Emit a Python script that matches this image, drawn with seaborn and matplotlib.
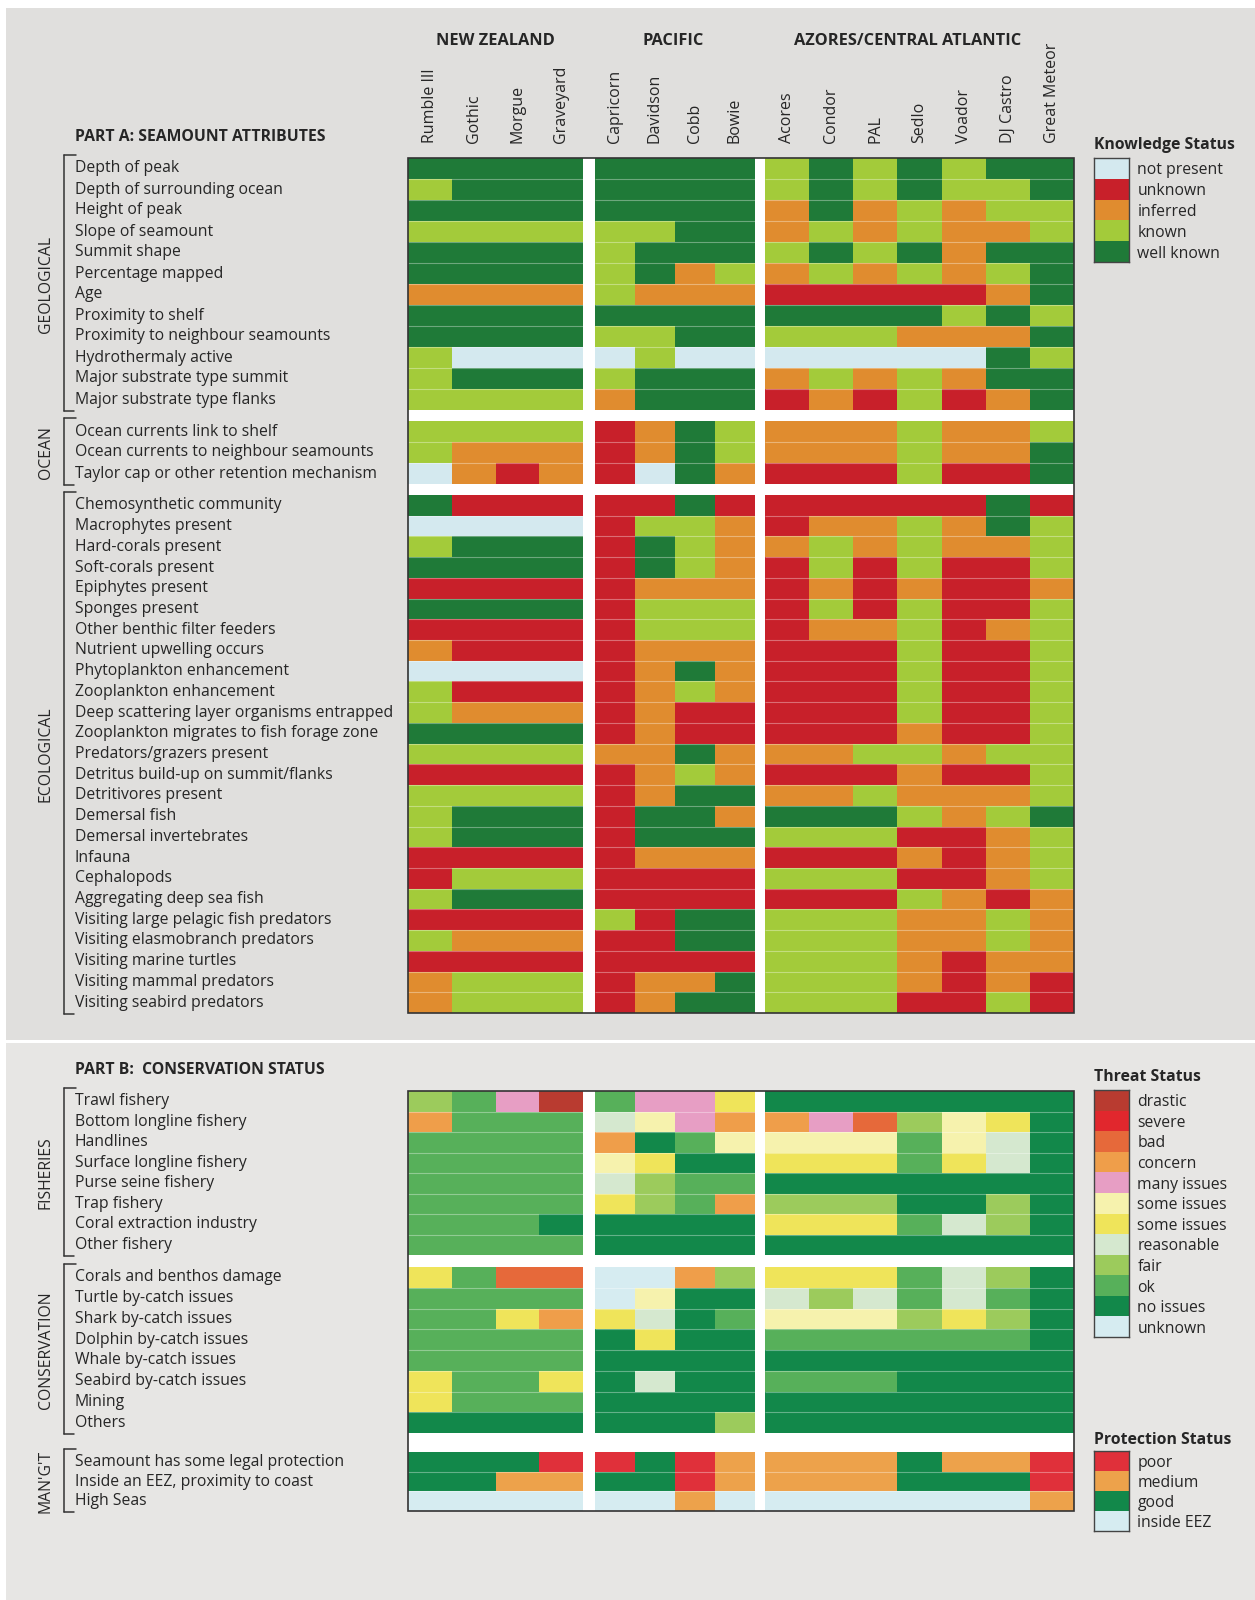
import matplotlib
matplotlib.use("Agg")
import matplotlib.pyplot as plt
import numpy as np
import seaborn as sns
from matplotlib.colors import ListedColormap
from matplotlib.lines import Line2D
from matplotlib.patches import Rectangle

# ---- data ------------------------------------------------------------------
groups = ["NEW ZEALAND", "PACIFIC", "AZORES/CENTRAL ATLANTIC"]
nz = ["Rumble III", "Gothic", "Morgue", "Graveyard"]
pacific = ["Capricorn", "Davidson", "Cobb", "Bowie"]
atlantic = ["Acores", "Condor", "PAL", "Sedlo", "Voador", "DJ Castro", "Great Meteor"]

# knowledge status: N not present, U unknown, I inferred, K known, W well known
knowledge_codes = "NUIKW"
knowledge_levels = ["not present", "unknown", "inferred", "known", "well known"]
knowledge_colors = ["#d4e9ef", "#c8202a", "#e08c2f", "#a3cb3a", "#1f7a38"]

geological_rows = ["Depth of peak", "Depth of surrounding ocean", "Height of peak",
                   "Slope of seamount", "Summit shape", "Percentage mapped", "Age",
                   "Proximity to shelf", "Proximity to neighbour seamounts",
                   "Hydrothermaly active", "Major substrate type summit",
                   "Major substrate type flanks"]
geological = ["WWWW WWWW KWKWKWW", "KWWW WWWW KWKWKKW", "WWWW WWWW IWIKIKK",
              "KKKK KKWW IKIKIIK", "WWWW KWWW KWKWIWW", "WWWW KWIK IKIKIKW",
              "IIII KIII UUUUUIW", "WWWW WWWW WWWWKWK", "WWWW KKWW KKKIIIW",
              "KNNN NKNN NNNNNWK", "KWWW KWWW IKIKIWW", "KKKK IWWW UIUKUIW"]

ocean_rows = ["Ocean currents link to shelf", "Ocean currents to neighbour seamounts",
              "Taylor cap or other retention mechanism"]
ocean = ["KKKK UIWK IIIKIIK", "KIII UIWK IIIKIIW", "NIUI UNWI UUUKUUW"]

ecological_rows = ["Chemosynthetic community", "Macrophytes present", "Hard-corals present",
                   "Soft-corals present", "Epiphytes present", "Sponges present",
                   "Other benthic filter feeders", "Nutrient upwelling occurs",
                   "Phytoplankton enhancement", "Zooplankton enhancement",
                   "Deep scattering layer organisms entrapped",
                   "Zooplankton migrates to fish forage zone", "Predators/grazers present",
                   "Detritus build-up on summit/flanks", "Detritivores present",
                   "Demersal fish", "Demersal invertebrates", "Infauna", "Cephalopods",
                   "Aggregating deep sea fish", "Visiting large pelagic fish predators",
                   "Visiting elasmobranch predators", "Visiting marine turtles",
                   "Visiting mammal predators", "Visiting seabird predators"]
ecological = ["WUUU UUWU UUUUUWU", "NNNN UKKI UIIKIWK", "KWWW UWKI IKIKIIK",
              "WWWW UWKI UKUKUUK", "UUUU UIII UIUIUUI", "WWWW UKKK UKUKUUK",
              "UUUU UKKK UIIKUIK", "IUUU UIII UUUKUUK", "NNNN UIWI UUUKUUK",
              "KUUU UIKI UUUKUUK", "KIII UIUU UUUKUUK", "WWWW UIUU UUUIUUK",
              "KKKK IIWI IIKKIKK", "UUUU UIKI UUUIUUK", "KKKK UIWW IIKIIIK",
              "KWWW UWWI WWWKIKW", "KWWW UWWW KKKUUIK", "UUUU UIII UUUIUIK",
              "UKKK UUUU KKKUUIK", "KWWW UUUU UUUKIUI", "UUUU KUWW KKKIIKI",
              "KIII UUWW KKKIIKI", "UUUU UUUU KKKIUII", "IKKK UIIW KKKIUIU",
              "IKKK UIWW KKKUUKU"]

# threat status: D drastic, S severe, B bad, C concern, M many issues, P some issues (pale),
# Y some issues, R reasonable, F fair, O ok, G no issues, X unknown
threat_codes = "DSBCMPYRFOGX"
threat_levels = ["drastic", "severe", "bad", "concern", "many issues", "some issues",
                 "some issues", "reasonable", "fair", "ok", "no issues", "unknown"]
threat_colors = ["#b93b30", "#e1272d", "#e6693a", "#ef9e4a", "#e79ec4", "#f6f2ad",
                 "#efe45a", "#d5e8cf", "#9ccb5c", "#57b05a", "#12884a", "#d6ecf1"]

fisheries_rows = ["Trawl fishery", "Bottom longline fishery", "Handlines",
                  "Surface longline fishery", "Purse seine fishery", "Trap fishery",
                  "Coral extraction industry", "Other fishery"]
fisheries = ["FOMD OMMY GGGGGGG", "COOO RPMC CMBFPYG", "OOOO CGOP PPPOPRG",
             "OOOO PYGG YYYOYRG", "OOOO RFOO GGGGGGG", "OOOO YFOC FFFGGFG",
             "OOOG GGGG YYYORFG", "OOOO GGGG GGGGGGG"]

conservation_rows = ["Corals and benthos damage", "Turtle by-catch issues",
                     "Shark by-catch issues", "Dolphin by-catch issues",
                     "Whale by-catch issues", "Seabird by-catch issues", "Mining", "Others"]
conservation = ["YOBB XXCF YYYORFG", "OOOO XPGG RFROROG", "OOYC YRGO PPPFYFG",
                "OOOO GYGG OOOOOOG", "OOOO GGGG GGGGGGG", "YOOY GRGG OOOGGGG",
                "YOOO GGGG GGGGGGG", "GGGG GGGF GGGGGGG"]

# protection status: P poor, M medium, G good, E inside EEZ
protection_codes = "PMGE"
protection_levels = ["poor", "medium", "good", "inside EEZ"]
protection_colors = ["#e0303a", "#eda24b", "#12884a", "#d6ecf1"]

management_rows = ["Seamount has some legal protection", "Inside an EEZ, proximity to coast",
                   "High Seas"]
management = ["GGGP PGPM MMMGMMP", "GGMM GGPM MMMGGGP", "EEEE EEME EEEEEEM"]

# ---- layout (pixels) -------------------------------------------------------
W, H = 1255, 1600
TXT = "#262626"
group_x = [(408, 583), (595, 755), (765, 1074)]
group_cols = [nz, pacific, atlantic]

sns.set_theme(style="white")
plt.rcParams["font.family"] = ["Open Sans", "DejaVu Sans"]
plt.rcParams["text.color"] = TXT

fig = plt.figure(figsize=(W / 100, H / 100), dpi=100)
fig.patch.set_facecolor("white")


def fx(x):
    return x / W


def fy(y):
    return 1 - y / H


def px_axes(x0, y0, x1, y1):
    return fig.add_axes([fx(x0), fy(y1), (x1 - x0) / W, (y1 - y0) / H])


def rect(x0, y0, x1, y1, **kw):
    fig.patches.append(Rectangle((fx(x0), fy(y1)), (x1 - x0) / W, (y1 - y0) / H,
                                 transform=fig.transFigure, figure=fig, **kw))


# background panels
rect(6, 8, W, 1040, facecolor="#e0dfdd", edgecolor="none", zorder=-3)
rect(6, 1043, W, H, facecolor="#e7e6e4", edgecolor="none", zorder=-3)


def draw_section(rows, labels, name, codes, colors, y0, y1):
    mat = np.array([[codes.index(c) for c in r.replace(" ", "")] for r in rows])
    cmap = ListedColormap(colors)
    n = len(rows)
    start = 0
    for (x0, x1), cols in zip(group_x, group_cols):
        ax = px_axes(x0, y0, x1, y1)
        sub = mat[:, start:start + len(cols)]
        start += len(cols)
        sns.heatmap(sub, cmap=cmap, vmin=-0.5, vmax=len(colors) - 0.5, cbar=False,
                    xticklabels=False, yticklabels=False, ax=ax)
        ax.hlines(np.arange(1, n), 0, sub.shape[1], colors="white", alpha=0.35, lw=0.8)
    rh = (y1 - y0) / n
    for i, lab in enumerate(labels):
        fig.text(fx(75), fy(y0 + (i + 0.5) * rh), lab, ha="left", va="center",
                 fontsize=11.3)
    # bracket
    lk = dict(transform=fig.transFigure, color="#333333", lw=1.1)
    fig.add_artist(Line2D([fx(64), fx(64)], [fy(y0 - 3), fy(y1 + 1)], **lk))
    fig.add_artist(Line2D([fx(64), fx(76)], [fy(y0 - 3), fy(y0 - 3)], **lk))
    fig.add_artist(Line2D([fx(64), fx(74)], [fy(y1 + 1), fy(y1 + 1)], **lk))
    fig.text(fx(46), fy((y0 + y1) / 2), name, rotation=90, ha="center", va="center",
             fontsize=11.3)


def draw_legend(title, levels, colors, y_title, y0, y1):
    ax = px_axes(1094, y0, 1129, y1)
    sns.heatmap(np.arange(len(levels)).reshape(-1, 1), cmap=ListedColormap(colors),
                vmin=-0.5, vmax=len(levels) - 0.5, cbar=False, xticklabels=False,
                yticklabels=levels, ax=ax)
    ax.yaxis.tick_right()
    ax.tick_params(axis="y", length=0, pad=6, labelsize=11.3, labelrotation=0,
                   labelcolor=TXT)
    for s in ax.spines.values():
        s.set_visible(True)
        s.set_color("#444444")
        s.set_linewidth(1)
    fig.text(fx(1094), fy(y_title), title, ha="left", va="center", fontsize=11.3,
             weight="bold")


# ---- headers ---------------------------------------------------------------
for name, xc in zip(groups, [495, 673, 908]):
    fig.text(fx(xc), fy(41), name, ha="center", va="center", fontsize=11.8, weight="bold")
for (x0, x1), cols in zip(group_x, group_cols):
    cw = (x1 - x0) / len(cols)
    for j, c in enumerate(cols):
        fig.text(fx(x0 + (j + 0.5) * cw), fy(143), c, rotation=90, ha="center",
                 va="bottom", fontsize=11.5)

# ---- part A ----------------------------------------------------------------
fig.text(fx(75), fy(137), "PART A: SEAMOUNT ATTRIBUTES", fontsize=11.3, weight="bold",
         va="center")
rect(408, 158, 1074, 1013, facecolor="white", edgecolor="none", zorder=-1)
draw_section(geological, geological_rows, "GEOLOGICAL", knowledge_codes, knowledge_colors, 158, 410)
draw_section(ocean, ocean_rows, "OCEAN", knowledge_codes, knowledge_colors, 421, 484)
draw_section(ecological, ecological_rows, "ECOLOGICAL", knowledge_codes, knowledge_colors, 495, 1013)
rect(408, 158, 1074, 1013, facecolor="none", edgecolor="#333333", lw=1.2, zorder=10)
draw_legend("Knowledge Status", knowledge_levels, knowledge_colors, 145, 158, 262)

# ---- part B ----------------------------------------------------------------
fig.text(fx(75), fy(1070), "PART B:  CONSERVATION STATUS", fontsize=11.3, weight="bold",
         va="center")
rect(408, 1091, 1074, 1511, facecolor="white", edgecolor="none", zorder=-1)
draw_section(fisheries, fisheries_rows, "FISHERIES", threat_codes, threat_colors, 1091, 1255)
draw_section(conservation, conservation_rows, "CONSERVATION", threat_codes, threat_colors, 1267, 1433)
draw_section(management, management_rows, "MAN'G'T", protection_codes, protection_colors, 1452, 1511)
rect(408, 1091, 1074, 1511, facecolor="none", edgecolor="#333333", lw=1.2, zorder=10)
draw_legend("Threat Status", threat_levels, threat_colors, 1077, 1090, 1337)
draw_legend("Protection Status", protection_levels, protection_colors, 1440, 1451, 1531)

fig.savefig("out.png", dpi=100)
